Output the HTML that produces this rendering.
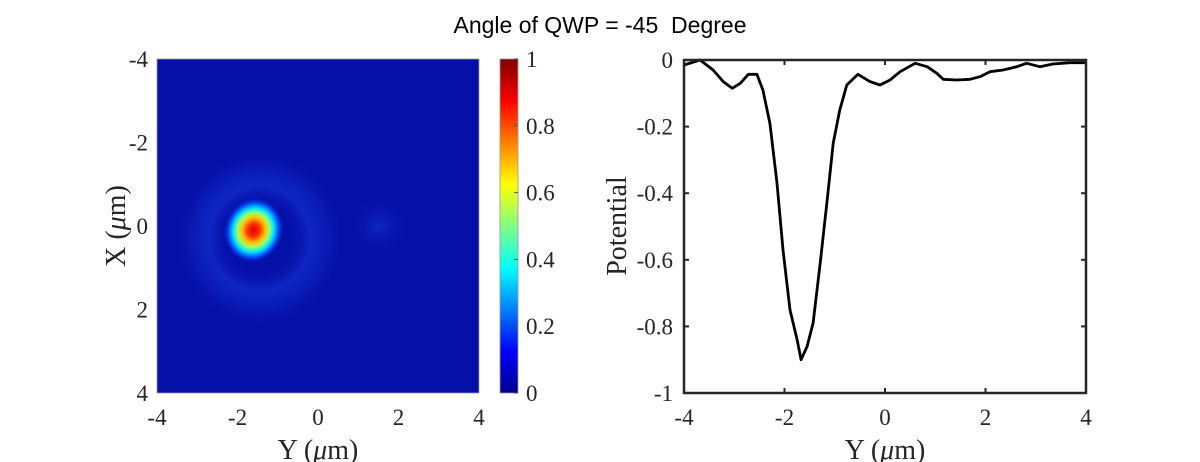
<!DOCTYPE html>
<html><head><meta charset="utf-8"><style>
html,body{margin:0;padding:0;background:#fff;width:1200px;height:462px;overflow:hidden}
svg text{font-family:"Liberation Serif",serif;fill:#262626}
</style></head><body>
<svg id="chart" width="1200" height="462" viewBox="0 0 1200 462" xmlns="http://www.w3.org/2000/svg">
<defs>
<linearGradient id="jet" x1="0" y1="1" x2="0" y2="0">
<stop offset="0" stop-color="#00008f"/><stop offset="0.125" stop-color="#0000ff"/>
<stop offset="0.375" stop-color="#00ffff"/><stop offset="0.625" stop-color="#ffff00"/>
<stop offset="0.875" stop-color="#ff0000"/><stop offset="1" stop-color="#800000"/>
</linearGradient>
<radialGradient id="spot">
<stop offset="0" stop-color="#e80000"/><stop offset="0.2" stop-color="#ff3000"/>
<stop offset="0.38" stop-color="#ffc000"/><stop offset="0.52" stop-color="#a0ff60"/>
<stop offset="0.66" stop-color="#00e8ff"/><stop offset="0.82" stop-color="#0050ff"/>
<stop offset="1" stop-color="#0510a8" stop-opacity="0"/>
</radialGradient>
<radialGradient id="ring">
<stop offset="0" stop-color="#0510a8" stop-opacity="0"/><stop offset="0.35" stop-color="#0510a8" stop-opacity="0"/>
<stop offset="0.6" stop-color="#1430d0" stop-opacity="0.7"/><stop offset="0.8" stop-color="#1028c4" stop-opacity="0.45"/>
<stop offset="1" stop-color="#0510a8" stop-opacity="0"/>
</radialGradient>
<radialGradient id="blob">
<stop offset="0" stop-color="#1430d0" stop-opacity="0.7"/><stop offset="1" stop-color="#0510a8" stop-opacity="0"/>
</radialGradient>
<clipPath id="hmclip"><rect x="157" y="59" width="322" height="334"/></clipPath>
</defs>
<text x="600" y="33" text-anchor="middle" style="font-family:'Liberation Sans',sans-serif;font-size:23px;fill:#000;white-space:pre" xml:space="preserve">Angle of QWP = -45  Degree</text>
<g id="left"></g>
<g id="right"></g>
</svg>
<script>
// heatmap features (data coords: Y, X, radius in µm)
const spotCenter = [-1.6, 0.1];
const spotRadius = [0.75, 0.8];
const ringRadius = [2.1, 2.1];
const blobCenter = [1.5, 0.0];
const blobRadius = [0.8, 0.7];
const hmTicks = [-4, -2, 0, 2, 4];
const cbTicks = [0, 0.2, 0.4, 0.6, 0.8, 1];
// potential curve
const curveY = [-4,-3.68,-3.42,-3.22,-3.04,-2.88,-2.72,-2.55,-2.43,-2.29,-2.15,-2.03,-1.89,-1.75,-1.67,-1.55,-1.43,-1.29,-1.15,-1.03,-0.9,-0.76,-0.54,-0.3,-0.1,0.1,0.3,0.6,0.84,1.03,1.16,1.43,1.69,1.89,2.09,2.35,2.62,2.82,3.08,3.34,3.68,4];
const curveV = [-0.015,0,-0.03,-0.065,-0.085,-0.07,-0.043,-0.043,-0.09,-0.19,-0.37,-0.57,-0.75,-0.84,-0.9,-0.86,-0.79,-0.61,-0.42,-0.25,-0.15,-0.075,-0.043,-0.065,-0.075,-0.06,-0.035,-0.01,-0.02,-0.04,-0.058,-0.06,-0.058,-0.05,-0.035,-0.03,-0.02,-0.01,-0.02,-0.012,-0.008,-0.008];
const potTicks = [0,-0.2,-0.4,-0.6,-0.8,-1];
const yTicks = [-4,-2,0,2,4];

const NS="http://www.w3.org/2000/svg";
function mk(p,tag,a,txt){const e=document.createElementNS(NS,tag);for(const k in a)e.setAttribute(k,a[k]);if(txt!==undefined)e.textContent=txt;p.appendChild(e);return e;}
const FS=23, TS=28;
function title(p,x,y,rot,pre){const t=mk(p,'text',{x:x,y:y,'text-anchor':'middle','font-size':TS});if(rot)t.setAttribute('transform',`rotate(-90 ${x} ${y})`);t.appendChild(document.createTextNode(pre+' ('));mk(t,'tspan',{'font-style':'italic'},'\u03bc');t.appendChild(document.createTextNode('m)'));return t;}
const L=document.getElementById('left'), R=document.getElementById('right');
// left axes
const lx0=157,lx1=479,ly0=59,ly1=393;
const hx=v=>lx0+(v+4)/8*(lx1-lx0), hy=v=>ly0+(v+4)/8*(ly1-ly0);
const sx=(lx1-lx0)/8, sy=(ly1-ly0)/8;
let e=mk(L,'rect',{x:lx0,y:ly0,width:lx1-lx0,height:ly1-ly0,fill:'#0510a8'});


const g=mk(L,'g',{'clip-path':'url(#hmclip)'});
e=mk(g,'ellipse',{cx:hx(spotCenter[0]+0.15),cy:hy(spotCenter[1]+0.2),rx:ringRadius[0]*sx,ry:ringRadius[1]*sy,fill:'url(#ring)'});


e=mk(g,'ellipse',{cx:hx(blobCenter[0]),cy:hy(blobCenter[1]),rx:blobRadius[0]*sx,ry:blobRadius[1]*sy,fill:'url(#blob)'});


e=mk(g,'ellipse',{cx:hx(spotCenter[0]),cy:hy(spotCenter[1]),rx:spotRadius[0]*sx,ry:spotRadius[1]*sy,fill:'url(#spot)',transform:`rotate(20 ${hx(spotCenter[0])} ${hy(spotCenter[1])})`});


mk(L,'rect',{x:lx0,y:ly0,width:lx1-lx0,height:ly1-ly0,fill:'none',stroke:'#999','stroke-width':0.8});
hmTicks.forEach(t=>{
  e=mk(L,'text',{x:hx(t),y:425,'text-anchor':'middle','font-size':FS},String(t));
  
  
  e=mk(L,'text',{x:148,y:hy(t)+8,'text-anchor':'end','font-size':FS},String(t));
  
  
});
e=title(L,318,459,false,'Y');


e=title(L,125,226,true,'X');


// colorbar
e=mk(L,'rect',{x:500,y:ly0,width:18,height:ly1-ly0,fill:'url(#jet)',stroke:'#999','stroke-width':0.8});


cbTicks.forEach(t=>{
  const y=ly1-t*(ly1-ly0);
  mk(L,'line',{x1:514,x2:518,y1:y,y2:y,stroke:'#555'});
  e=mk(L,'text',{x:526,y:y+8,'font-size':FS},String(t));
  
  
});
// right axes
const rx0=684,rx1=1086,ry0=60,ry1=393;
const px=v=>rx0+(v+4)/8*(rx1-rx0), py=v=>ry0-v*(ry1-ry0);
yTicks.forEach(t=>{
  mk(R,'line',{x1:px(t),x2:px(t),y1:ry1,y2:ry1-5,stroke:'#262626','stroke-width':2});
  mk(R,'line',{x1:px(t),x2:px(t),y1:ry0,y2:ry0+5,stroke:'#262626','stroke-width':2});
  e=mk(R,'text',{x:px(t),y:425,'text-anchor':'middle','font-size':FS},String(t));
  
  
});
potTicks.forEach(t=>{
  mk(R,'line',{x1:rx0,x2:rx0+5,y1:py(t),y2:py(t),stroke:'#262626','stroke-width':2});
  mk(R,'line',{x1:rx1,x2:rx1-5,y1:py(t),y2:py(t),stroke:'#262626','stroke-width':2});
  e=mk(R,'text',{x:673,y:py(t)+8,'text-anchor':'end','font-size':FS},String(t));
  
  
});
let d=curveY.map((v,i)=>(i?'L':'M')+px(v).toFixed(1)+' '+py(curveV[i]).toFixed(1)).join(' ');
e=mk(R,'path',{d:d,fill:'none',stroke:'#000','stroke-width':2.8,'stroke-linejoin':'round'});


mk(R,'rect',{x:rx0,y:ry0,width:rx1-rx0,height:ry1-ry0,fill:'none',stroke:'#262626','stroke-width':2.5});
e=title(R,885,459,false,'Y');


e=mk(R,'text',{x:626,y:226,'text-anchor':'middle','font-size':TS,transform:'rotate(-90 626 226)'},'Potential');


</script>
</body></html>
